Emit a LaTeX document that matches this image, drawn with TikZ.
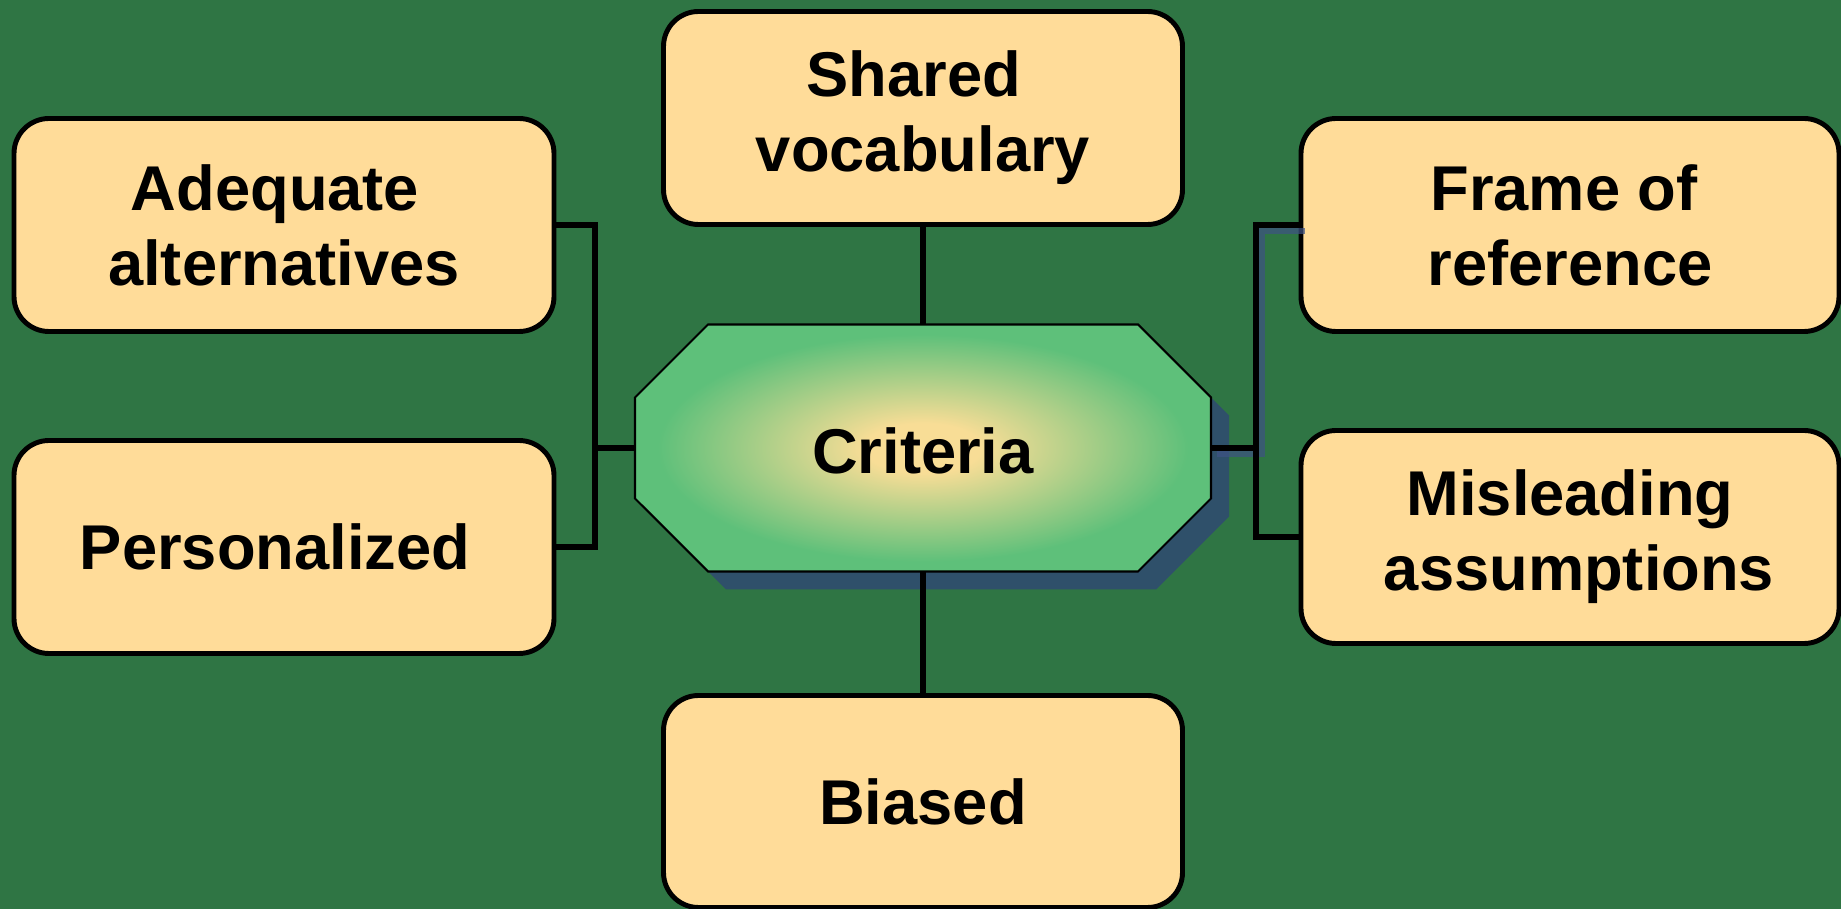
\documentclass[tikz,border=0pt]{standalone}
\usepackage{fontspec}
\setmainfont{Liberation Sans}
\usetikzlibrary{positioning, calc}

\definecolor{bggreen}{RGB}{47,117,68}
\definecolor{boxfill}{RGB}{255,220,153}
\definecolor{critin}{RGB}{248,221,150}
\definecolor{critout}{RGB}{94,192,122}
\definecolor{critshadow}{RGB}{47,80,106}
\definecolor{wireshadow}{RGB}{62,82,132}

\pgfdeclareradialshading{critglow}{\pgfpoint{0bp}{0bp}}{color(0bp)=(critin); color(5bp)=(critin); color(23bp)=(critout); color(50bp)=(critout)}

\tikzset{
  label text/.style={font=\bfseries\fontsize{18}{21.3}\selectfont},
  box/.style={draw, line width=1.4pt, fill=boxfill, rounded corners=0.35cm, align=center, minimum height=2.13cm, label text},
  wire/.style={line width=1.6pt},
}

\begin{document}
\begin{tikzpicture}
			\fill [bggreen] (0,0) rectangle (18.41,9.09);
			\useasboundingbox (0,0) rectangle (18.41,9.09);

			% octagon behind the centre label, with its drop shadow
			\begin{scope}[shift={(9.23,4.61)}]
				\fill [critshadow, shift={(0.18,-0.18)}] (-2.15,1.235) -- (2.15,1.235) -- (2.88,0.505) -- (2.88,-0.505) -- (2.15,-1.235) -- (-2.15,-1.235) -- (-2.88,-0.505) -- (-2.88,0.505) -- cycle;
				\shade [shading=critglow, draw, line width=0.6pt] (-2.15,1.235) -- (2.15,1.235) -- (2.88,0.505) -- (2.88,-0.505) -- (2.15,-1.235) -- (-2.15,-1.235) -- (-2.88,-0.505) -- (-2.88,0.505) -- cycle;
			\end{scope}

			\node (n1) [minimum width=5.76cm, minimum height=2.47cm, inner sep=0pt, outer sep=0pt, text height=0.515cm, text depth=0pt, label text] at (9.23,4.61) {Criteria};
			\node (n2) [box, minimum width=5.40cm] at (2.84,6.84) {Adequate\kern.18cm\\alternatives};
			\node (n3) [box, minimum width=5.40cm] at (2.84,3.62) {Personalized\kern.18cm};
			\node (n4) [box, minimum width=5.19cm] at (9.23,7.91) {Shared\kern.18cm\\vocabulary};
			\node (n5) [box, minimum width=5.38cm] at (15.70,6.84) {Frame of\kern.12cm\\reference};
			\node (n6) [box, minimum width=5.38cm] at (15.70,3.72) {Misleading\\\kern.18cm assumptions};
			\node (n7) [box, minimum width=5.19cm, minimum height=2.12cm] at (9.23,1.075) {Biased};

			\coordinate (lj) at (5.95,4.61);
			\coordinate (rj) at (12.56,4.61);

			% faint shadow under the right bracket
			\draw [wire, wireshadow, opacity=0.7] ($(n5.west)+(0.06,-0.06)$) -| ($(rj)+(0.06,-0.06)$) -- ($(n1.east)+(0.06,-0.06)$);

			\draw [wire] (n2.east) -| (lj) -- (n1.west);
			\draw [wire] (n3.east) -| (lj);
			\draw [wire] (n5.west) -| (rj) -- (n1.east);
			\draw [wire] (n6.west) -| (rj);
			\draw [wire] (n4) -- (n1);
			\draw [wire] (n1) -- (n7);
		\end{tikzpicture}
\end{document}
